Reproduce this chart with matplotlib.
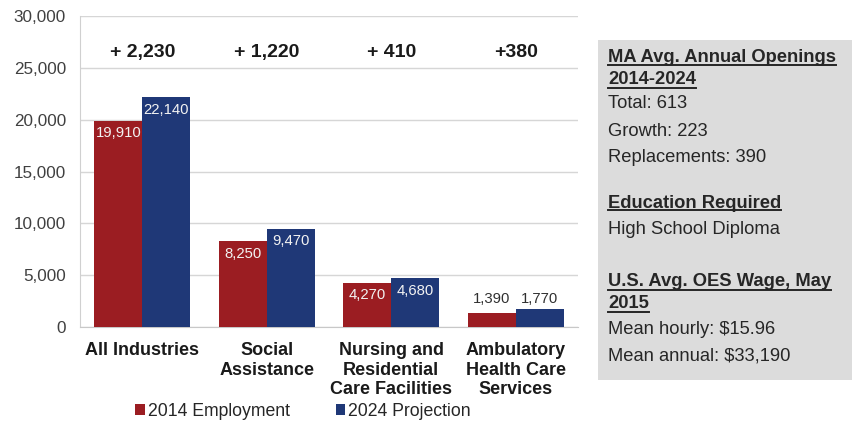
import matplotlib.pyplot as plt
from matplotlib.patches import Rectangle
from matplotlib.lines import Line2D
import numpy as np

plt.rcParams['font.family'] = ['Liberation Sans', 'DejaVu Sans']

# Employment by industry, 2014 vs 2024 projection
industries = ["All Industries", "Social\nAssistance", "Nursing and\nResidential\nCare Facilities",
              "Ambulatory\nHealth Care\nServices"]
emp_2014 = [19910, 8250, 4270, 1390]
proj_2024 = [22140, 9470, 4680, 1770]
change_labels = ["+ 2,230", "+ 1,220", "+ 410", "+380"]

info_lines = [
    ("MA Avg. Annual Openings", True),
    ("2014-2024", True),
    ("Total: 613", False),
    ("Growth: 223", False),
    ("Replacements: 390", False),
    ("Education Required", True),
    ("High School Diploma", False),
    ("U.S. Avg. OES Wage, May", True),
    ("2015", True),
    ("Mean hourly: $15.96", False),
    ("Mean annual: $33,190", False),
]
info_y_px = [57, 80, 104, 131, 157, 203, 229, 282, 304, 330, 356]

RED = "#9B1D22"
BLUE = "#1F3877"
W, H = 853, 422

fig = plt.figure(figsize=(W / 100, H / 100), dpi=100)
ax = fig.add_axes([80 / W, 1 - 327 / H, 498 / W, 311 / H])

x = np.arange(len(industries))
bw = 0.385
b1 = ax.bar(x - bw / 2, emp_2014, bw, color=RED, zorder=3, label="2014 Employment")
b2 = ax.bar(x + bw / 2, proj_2024, bw, color=BLUE, zorder=3, label="2024 Projection")

# value labels: inside the tall bars, above the short ones
for bars in (b1, b2):
    for i, rect in enumerate(bars):
        v = rect.get_height()
        cx = rect.get_x() + rect.get_width() / 2
        if v > 3000:
            ax.annotate(f"{v:,}", (cx, v), xytext=(0, -4), textcoords="offset points",
                        ha="center", va="top", color="#F2F2F2", fontsize=10.7, zorder=4)
        else:
            ax.annotate(f"{v:,}", (cx, max(emp_2014[i], proj_2024[i])), xytext=(0, 2),
                        textcoords="offset points", ha="center", va="bottom",
                        color="#303030", fontsize=10.7, zorder=4)

for xi, lab in zip(x, change_labels):
    ax.text(xi, 26500, lab, ha="center", va="center", fontsize=14, fontweight="bold",
            color="#1A1A1A")

ax.set_xlim(-0.5, len(industries) - 0.5)
ax.set_ylim(0, 30000)
ax.set_yticks(np.arange(0, 30001, 5000))
ax.set_yticklabels([f"{t:,}" for t in range(0, 30001, 5000)])
ax.yaxis.grid(True, color="#D6D6D6", linewidth=1, zorder=0)
ax.set_xticks(x)
ax.set_xticklabels(industries, fontsize=13, fontweight="bold", color="#1A1A1A",
                   linespacing=1.2)
ax.tick_params(axis="both", length=0)
ax.tick_params(axis="y", labelsize=12.3, labelcolor="#404040", pad=10)
ax.tick_params(axis="x", pad=11)
for s in ("top", "right"):
    ax.spines[s].set_visible(False)
ax.spines["left"].set_color("#D0D0D0")
ax.spines["bottom"].set_color("#C8C8C8")

fig.legend(handles=[b1, b2], loc="center", bbox_to_anchor=(303 / W, 1 - 411 / H),
           ncol=2, frameon=False, fontsize=12.7, handlelength=0.55, handleheight=0.55,
           handletextpad=0.15, columnspacing=2.6, borderaxespad=0, labelcolor="#262626")

# info panel on the right
fig.add_artist(Rectangle((598 / W, 1 - 380 / H), 255 / W, 340 / H,
                         transform=fig.transFigure, facecolor="#DCDCDC",
                         edgecolor="none", zorder=0))

tx = 608 / W
texts = []
for (line, bold), ypx in zip(info_lines, info_y_px):
    t = fig.text(tx, 1 - ypx / H, line, ha="left", va="center", fontsize=13.2,
                 fontweight="bold" if bold else "normal", color="#262626")
    texts.append((t, bold))

fig.canvas.draw()
r = fig.canvas.get_renderer()
for t, bold in texts:
    if not bold:
        continue
    bb = t.get_window_extent(r).transformed(fig.transFigure.inverted())
    yline = bb.y0 + 1.0 / H
    fig.add_artist(Line2D([bb.x0, bb.x1], [yline, yline], transform=fig.transFigure,
                          color="#262626", linewidth=1.4))

fig.savefig("out.png", dpi=100)
